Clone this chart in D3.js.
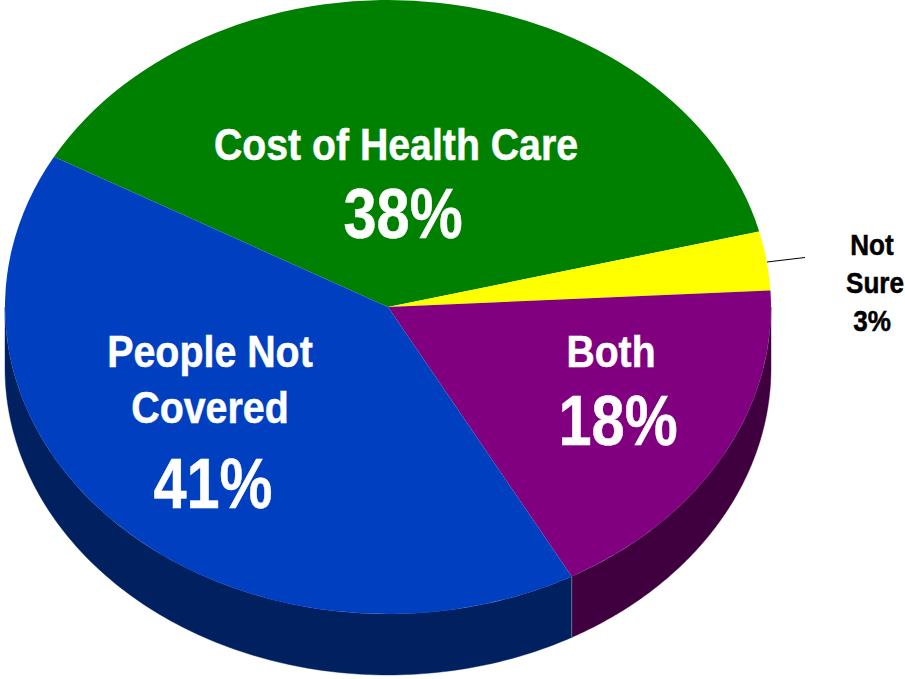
<!DOCTYPE html>
<html>
<head>
<meta charset="utf-8">
<script src="https://cdn.jsdelivr.net/npm/d3@7/dist/d3.min.js"></script>
<style>
html,body{margin:0;padding:0;background:#fff;}
svg{display:block;}
text{font-family:"Liberation Sans",Arial,sans-serif;font-weight:700;}
</style>
</head>
<body>
<svg id="chart" width="905" height="679"></svg>
<script>
const categories = ["Cost of Health Care", "Not Sure", "Both", "People Not Covered"];
const shares = [37.9, 3.1, 17.9, 41.1];
const topColors = ["#008000", "#ffff00", "#800080", "#0040c0"];
const wallColors = ["#004000", "#808000", "#400040", "#002060"];

const W = 905, H = 679, cx = 388, cy = 307, rx = 383, ry = 307, depth = 61;
const startDeg = 299.3;
const svg = d3.select("#chart");

const pie = d3.pie().sort(null).value(d => d.v)
  .startAngle(startDeg * Math.PI / 180)
  .endAngle((startDeg + 360) * Math.PI / 180);
const arcs = pie(categories.map((c, i) => ({c, v: shares[i], i})));

const px = a => cx + rx * Math.sin(a);
const py = (a, dz = 0) => cy - ry * Math.cos(a) + dz;

// side walls: only the part of each slice on the front half of the disc
const frontA = Math.PI / 2, frontB = 3 * Math.PI / 2;
function wallPath(a0, a1) {
  const p = d3.path();
  const n = 120;
  const pts = d3.range(n + 1).map(k => a0 + (a1 - a0) * k / n);
  pts.forEach((a, k) => k ? p.lineTo(px(a), py(a)) : p.moveTo(px(a), py(a)));
  pts.slice().reverse().forEach(a => p.lineTo(px(a), py(a, depth)));
  p.closePath();
  return p.toString();
}
const walls = svg.append("g");
arcs.forEach(d => {
  [0, 2 * Math.PI].forEach(shift => {
    const a0 = Math.max(d.startAngle - shift, frontA);
    const a1 = Math.min(d.endAngle - shift, frontB);
    if (a1 > a0) {
      walls.append("path")
        .attr("d", wallPath(a0, a1))
        .attr("fill", wallColors[d.data.i])
        .attr("stroke", wallColors[d.data.i])
        .attr("stroke-width", 0.4);
    }
  });
});
// vertical highlight between wall segments
const seam = arcs[2].endAngle;
walls.append("line")
  .attr("x1", px(seam)).attr("x2", px(seam))
  .attr("y1", py(seam)).attr("y2", py(seam, depth))
  .attr("stroke", "#6a6f8c").attr("stroke-width", 1);

// top face: a circular d3 arc squeezed into the ellipse
const arcGen = d3.arc().innerRadius(0).outerRadius(rx);
svg.append("g")
  .attr("transform", `translate(${cx},${cy}) scale(1,${ry / rx})`)
  .selectAll("path").data(arcs).join("path")
  .attr("d", arcGen)
  .attr("fill", d => topColors[d.data.i]);

// leader line for the small slice
svg.append("line")
  .attr("x1", 767).attr("y1", 262).attr("x2", 805).attr("y2", 257.5)
  .attr("stroke", "#000").attr("stroke-width", 1);

const labels = [
  {lines: [["Cost of Health Care", 396, 160, 43.5, 0.902]], pct: ["38%", 403, 238, 70, 0.85], fill: "#fff"},
  {lines: [["Both", 611, 367, 43.5, 0.9]], pct: ["18%", 618, 445, 70, 0.85], fill: "#fff"},
  {lines: [["People Not", 210, 367, 43.5, 0.905], ["Covered", 210, 423, 43.5, 0.905]], pct: ["41%", 213, 508, 70, 0.85], fill: "#fff"},
  {lines: [["Not", 872, 255, 29, 0.9], ["Sure", 875, 293, 29, 0.9]], pct: ["3%", 872, 331, 29, 0.9], fill: "#000"}
];
labels.forEach(l => {
  const g = svg.append("g").attr("fill", l.fill).attr("text-anchor", "middle")
    .attr("stroke", l.fill).attr("stroke-width", 0.5);
  const add = ([t, x, y, s, k]) => g.append("text")
    .attr("x", x).attr("y", y).attr("font-size", s)
    .attr("transform", `translate(${x},0) scale(${k},1) translate(${-x},0)`)
    .text(t);
  l.lines.forEach(add);
  add(l.pct);
});
</script>
</body>
</html>
